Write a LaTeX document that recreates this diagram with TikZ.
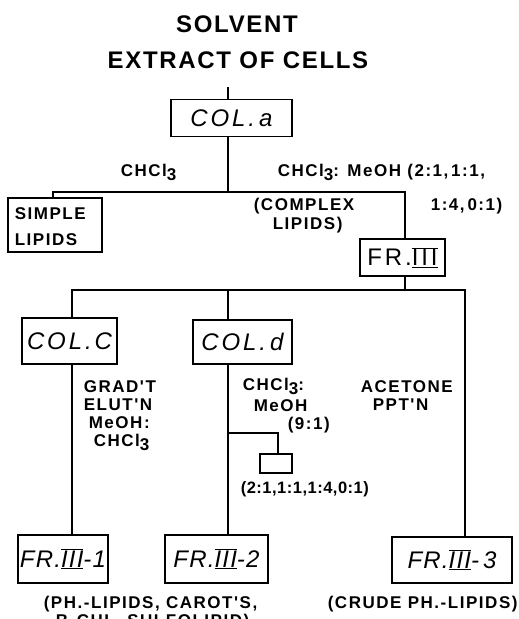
\documentclass[tikz,border=0pt]{standalone}
\usepackage{fontspec}
\setmainfont{Liberation Sans}
\newfontfamily\titlefont{Liberation Sans}[LetterSpace=7]
\newfontfamily\labfont{Liberation Sans}[LetterSpace=9]
\newfontfamily\tightfont{Liberation Sans}[LetterSpace=3]
\newfontfamily\boxfont{Liberation Sans}[LetterSpace=12]
\newfontfamily\frfont{Liberation Sans}[LetterSpace=5]
\newcommand{\RN}[1]{$\overline{\underline{\hbox{#1}}}$}
\newcommand{\sub}[1]{\raisebox{-0.25em}{#1}}
\begin{document}
\begin{tikzpicture}[x=1pt,y=-1pt,
  line width=1.6pt,
  boxnode/.style={draw, line width=1.6pt, inner sep=0pt, align=center},
  boxlab/.style={font=\boxfont\itshape\fontsize{24}{26}\selectfont},
  frlab/.style={font=\frfont\itshape\fontsize{24}{26}\selectfont},
  lab/.style={inner sep=0pt, anchor=base west, font=\labfont\bfseries\fontsize{17}{19}\selectfont},
  ttl/.style={inner sep=0pt, anchor=base, font=\titlefont\bfseries\fontsize{24}{28}\selectfont}]
\useasboundingbox (0,0) rectangle (519,619);

% title
\node[ttl] (t1) at (237,32) {SOLVENT};
\node[ttl] (t2) at (238,68) {EXTRACT OF CELLS};

% boxes
\node[boxnode, boxlab, minimum width=121pt, minimum height=37pt] (cola) at (231.5,118) {COL.\,a};
\node[boxnode, minimum width=94pt, minimum height=54pt] (simple) at (55,225) {};
\node[boxnode, minimum width=85pt, minimum height=37pt, font=\boxfont\fontsize{24}{26}\selectfont] (fr3) at (402.5,257.5) {FR.\RN{III}};
\node[boxnode, boxlab, minimum width=95pt, minimum height=46pt] (colc) at (69.5,341) {COL.C};
\node[boxnode, boxlab, minimum width=99pt, minimum height=44pt] (cold) at (242.5,342) {COL.\,d};
\node[boxnode, minimum width=32pt, minimum height=19pt] (small) at (276,463.5) {};
\node[boxnode, frlab, minimum width=90pt, minimum height=48pt] (fr31) at (63,559) {FR.\RN{III}-1};
\node[boxnode, frlab, minimum width=103pt, minimum height=48pt] (fr32) at (216.5,559) {FR.\RN{III}-2};
\node[boxnode, frlab, minimum width=120pt, minimum height=46pt] (fr33) at (452,560) {FR.\RN{III}-\,3};

% junction coordinates
\coordinate (top) at (228,87);
\coordinate (j1) at (228,192);
\coordinate (j1l) at (53,192);
\coordinate (j1r) at (405,192);
\coordinate (j2) at (405,290);
\coordinate (j2l) at (72,290);
\coordinate (j2m) at (228,290);
\coordinate (j2r) at (465,290);
\coordinate (jb) at (228,433);
\coordinate (jbr) at (278,433);

% connectors
\draw (top) -- (top |- cola.north);
\draw (j1 |- cola.south) -- (j1);
\draw (j1l |- simple.north) -- (j1l) -- (j1r) -- (j1r |- fr3.north);
\draw (j2 |- fr3.south) -- (j2);
\draw (j2l |- colc.north) -- (j2l) -- (j2r) -- (j2r |- fr33.north);
\draw (j2m) -- (j2m |- cold.north);
\draw (j2l |- colc.south) -- (j2l |- fr31.north);
\draw (j2m |- cold.south) -- (j2m |- fr32.north);
\draw (jb) -- (jbr) -- (jbr |- small.north);

% labels
\node[lab] (sl1) at (14,219) {SIMPLE};
\node[lab] (sl2) at (14,245) {LIPIDS};
\node[lab] (c1) at (120,176) {CHCl\sub{3}};
\node[lab] (c2) at (277,176) {CHCl\sub{3}: MeOH (2:1,\,1:1,};
\node[lab] (c3) at (430,210) {1:4,\,0:1)};
\node[lab] (cx1) at (253,210) {(COMPLEX};
\node[lab] (cx2) at (272,229) {LIPIDS)};
\node[lab] (g1) at (83,392) {GRAD'T};
\node[lab] (g2) at (83,410) {ELUT'N};
\node[lab] (g3) at (88,428) {MeOH:};
\node[lab] (g4) at (93,446) {CHCl\sub{3}};
\node[lab] (d1) at (242,390) {CHCl\sub{3}:};
\node[lab] (d2) at (253,411) {MeOH};
\node[lab] (d3) at (287,429) {(9:1)};
\node[lab] (a1) at (360,392) {ACETONE};
\node[lab] (a2) at (372,410) {PPT'N};
\node[lab, font=\tightfont\bfseries\fontsize{16.5}{18}\selectfont] (r1) at (240,493) {(2:1,1:1,1:4,0:1)};
\node[lab] (b1) at (43,608) {(PH.-LIPIDS, CAROT'S,};
\node[lab] (b2) at (55,626) {B-CHL, SULFOLIPID)};
\node[lab] (b3) at (327,608) {(CRUDE PH.-LIPIDS)};
\end{tikzpicture}
\end{document}
